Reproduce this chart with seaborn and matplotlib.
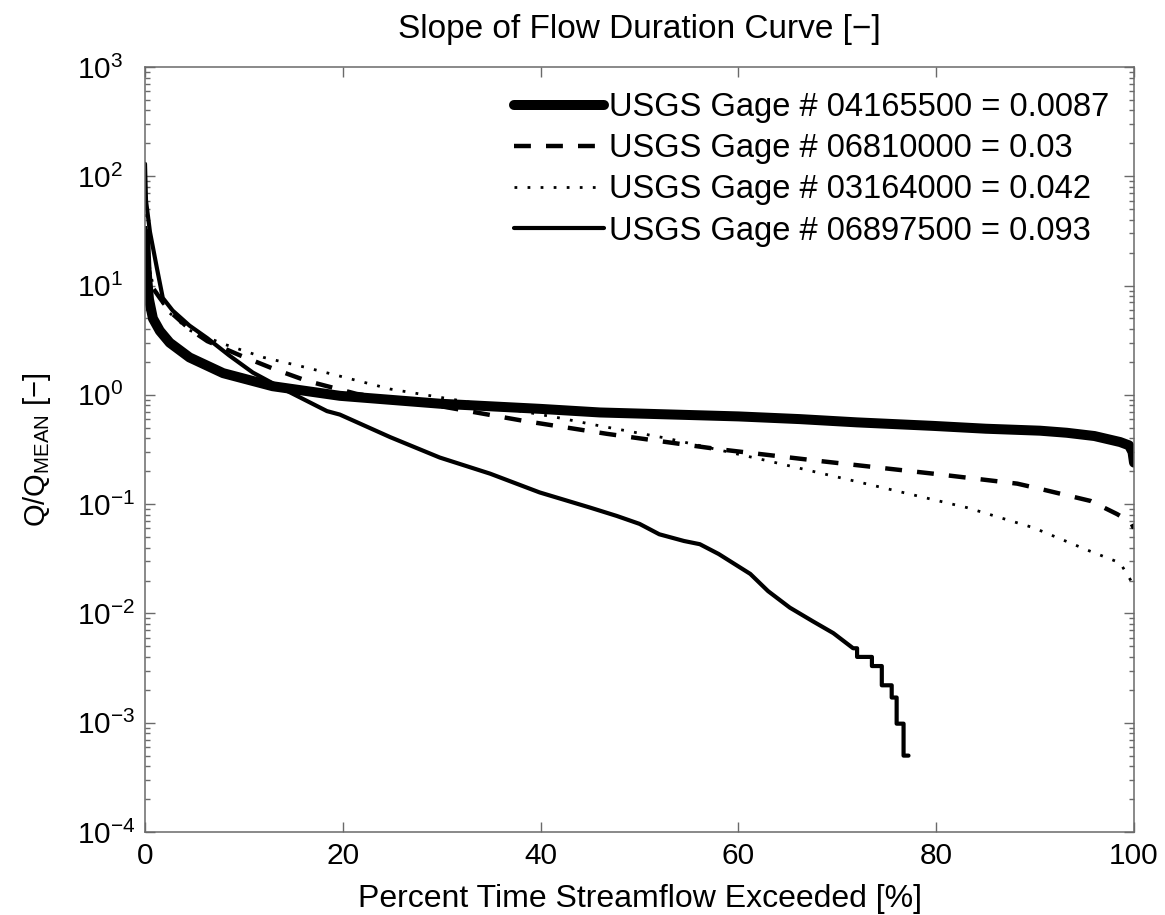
import matplotlib
matplotlib.use("Agg")
import matplotlib.pyplot as plt
import matplotlib.ticker as mticker
import numpy as np
import pandas as pd
import seaborn as sns

# ---------------- data ----------------
labels = [
    "USGS Gage # 04165500 = 0.0087",
    "USGS Gage # 06810000 = 0.03",
    "USGS Gage # 03164000 = 0.042",
    "USGS Gage # 06897500 = 0.093",
]

g1_p = [0, 0.15, 0.4, 0.8, 1.5, 2.5, 4.5, 7.9, 12.9, 19.7, 29.8, 39.9, 46, 50,
        60, 66.2, 72, 79.7, 85, 90.5, 93.2, 96, 98.6, 99.5, 99.85, 100]
g1_v = [30, 14, 7.5, 5.0, 3.85, 3.0, 2.2, 1.58, 1.2, 0.98, 0.83, 0.745, 0.69, 0.674,
        0.635, 0.60, 0.56, 0.52, 0.49, 0.47, 0.45, 0.42, 0.37, 0.345, 0.30, 0.24]

g2_p = [0, 0.3, 0.8, 1.5, 2.5, 4.5, 6.3, 9.6, 13, 16.4, 21.4, 29.8, 38.2, 46.7, 50,
        57.8, 67.9, 79.7, 88.2, 90.5, 95.6, 98.3, 99.7, 100]
g2_v = [35, 15, 9.5, 7.7, 5.8, 4.0, 3.1, 2.3, 1.73, 1.34, 1.02, 0.79, 0.58, 0.44, 0.40,
        0.32, 0.25, 0.19, 0.154, 0.138, 0.107, 0.081, 0.068, 0.06]

g3_p = [0, 0.3, 0.8, 1.5, 2.5, 4.5, 7.9, 12, 16.4, 24.8, 33.2, 41.7, 46, 52.8, 62.9,
        73, 83.1, 89.8, 95.6, 98.6, 99.4, 100]
g3_v = [45, 18, 10, 7.5, 5.6, 3.9, 2.93, 2.2, 1.77, 1.13, 0.845, 0.62, 0.52, 0.40, 0.25,
        0.153, 0.093, 0.061, 0.037, 0.029, 0.022, 0.018]

g4_p = [0, 0.1, 0.5, 1.2, 1.8, 2.8, 4.5, 6.3, 8.5, 10.9, 14, 18.4, 19.7, 24.8, 29.8,
        34.9, 39.9, 45, 47.7, 50, 52, 54.5, 56.1, 58, 61.2, 63, 65.2, 67.5, 69.6,
        71.6, 72.0, 72.0, 73.5, 73.5, 74.5, 74.5, 75.5, 75.5, 76.0, 76.0, 76.7,
        76.7, 77.2]
g4_v = [130, 60, 31, 14.5, 7.7, 5.9, 4.3, 3.3, 2.3, 1.6, 1.13, 0.71, 0.66, 0.41, 0.267,
        0.19, 0.128, 0.093, 0.078, 0.066, 0.053, 0.046, 0.043, 0.035, 0.023, 0.016,
        0.0113, 0.0085, 0.0066,
        0.0048, 0.0048, 0.004, 0.004, 0.0033, 0.0033, 0.0022, 0.0022, 0.0017,
        0.0017, 0.00098, 0.00098, 0.0005, 0.0005]

x_ticks = [0, 20, 40, 60, 80, 100]
y_decades = [-4, -3, -2, -1, 0, 1, 2, 3]

# ---------------- style ----------------
sns.set_theme(style="ticks")
FONT = ["Liberation Sans", "DejaVu Sans"]
plt.rcParams["font.family"] = FONT
plt.rcParams["text.color"] = "black"
plt.rcParams["axes.labelcolor"] = "black"
plt.rcParams["mathtext.fontset"] = "custom"
plt.rcParams["mathtext.rm"] = "Liberation Sans"
plt.rcParams["mathtext.it"] = "Liberation Sans:italic"
plt.rcParams["mathtext.default"] = "regular"
AX_COL = "#6a6a6a"

fig = plt.figure(figsize=(11.65, 9.15), dpi=100)
ax = fig.add_axes([145 / 1165, 1 - 832 / 915, (1134 - 145) / 1165, (832 - 67) / 915])

series = [
    (g1_p, g1_v, 7.2, None),
    (g2_p, g2_v, 3.2, (3.8, 3.4)),
    (g3_p, g3_v, 2.0, (1.0, 3.7)),
    (g4_p, g4_v, 3.0, None),
]

for (p, v, lw, dash), lab in zip(series, labels):
    df = pd.DataFrame({"p": p, "v": v})
    n_before = len(ax.lines)
    sns.lineplot(data=df, x="p", y="v", ax=ax, color="black", linewidth=lw,
                 estimator=None, sort=False, label=lab)
    line = ax.lines[n_before]
    line.set_solid_joinstyle("round")
    if dash is not None:
        line.set_dashes(dash)

ax.set_yscale("log")
ax.set_xlim(0, 100)
ax.set_ylim(1e-4, 1e3)
ax.set_xticks(x_ticks)
ax.set_xticklabels([str(t) for t in x_ticks])
ax.set_yticks([10.0 ** d for d in y_decades])
ax.set_yticklabels([r"$10^{%d}$" % d for d in y_decades], ha="left")
ax.yaxis.set_minor_locator(mticker.LogLocator(base=10, subs=np.arange(2, 10), numticks=20))
ax.yaxis.set_minor_formatter(mticker.NullFormatter())

ax.tick_params(which="both", direction="in", top=True, right=True, colors=AX_COL,
               labelcolor="black", width=1.0)
ax.tick_params(which="major", length=7, labelsize=21.5)
ax.tick_params(which="minor", length=3.6)
ax.tick_params(axis="x", pad=7)
ax.tick_params(axis="y", pad=49)
for lab in ax.get_yticklabels():
    lab.set_horizontalalignment("left")
for s in ax.spines.values():
    s.set_color(AX_COL)
    s.set_linewidth(1.1)
    s.set_visible(True)

ax.set_xlabel("Percent Time Streamflow Exceeded [%]", fontsize=23, labelpad=10)
ax.set_ylabel(r"Q/Q$_{MEAN}$ [−]", fontsize=21, labelpad=17)
ax.set_title("Slope of Flow Duration Curve [−]", fontsize=24, pad=21)

leg = ax.legend(loc="upper right", bbox_to_anchor=(0.975, 0.967), frameon=False,
                fontsize=23.5, handlelength=2.76, handletextpad=0.15, labelspacing=0.31,
                borderaxespad=0, borderpad=0)
for h in leg.get_lines():
    h.set_color("black")

fig.savefig("out.png", dpi=100, facecolor="white")
